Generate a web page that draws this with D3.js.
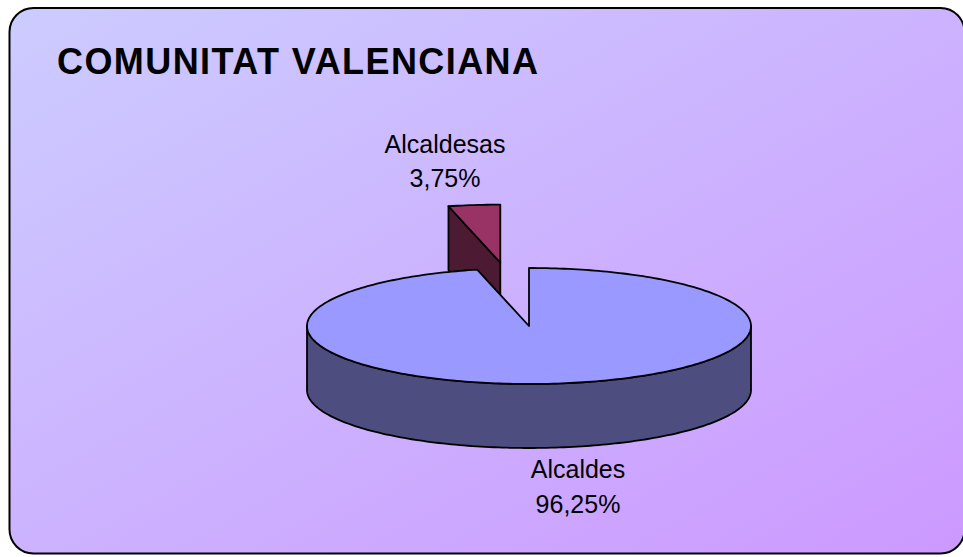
<!DOCTYPE html>
<html>
<head>
<meta charset="utf-8">
<script src="https://cdn.jsdelivr.net/npm/d3@7"></script>
<style>
  html, body { margin: 0; padding: 0; background: #ffffff; }
  svg { display: block; }
  text { font-family: "Liberation Sans", Arial, sans-serif; }
</style>
</head>
<body>
<svg id="chart" width="963" height="557"></svg>
<script>
// ---- data ----
const title = "COMUNITAT VALENCIANA";
const categories = ["Alcaldes", "Alcaldesas"];
const values = [96.25, 3.75];
const valueLabels = ["96,25%", "3,75%"];
const topColors = ["#9999FF", "#993366"];
const sideColors = ["#4D4D80", "#4D1A33"];
const exploded = [0, 1.1];

const W = 963, H = 557;
const svg = d3.select("#chart");

// background
const defs = svg.append("defs");
const grad = defs.append("linearGradient").attr("id", "bg")
  .attr("x1", "0%").attr("y1", "0%").attr("x2", "100%").attr("y2", "100%");
grad.append("stop").attr("offset", "0%").attr("stop-color", "#CCCCFF");
grad.append("stop").attr("offset", "100%").attr("stop-color", "#CC99FF");

svg.append("rect")
  .attr("x", 9.5).attr("y", 8).attr("width", 955).attr("height", 545.5)
  .attr("rx", 24).attr("ry", 24)
  .attr("fill", "url(#bg)").attr("stroke", "#000").attr("stroke-width", 2);

svg.append("text")
  .attr("x", 57).attr("y", 74)
  .attr("font-size", 36).attr("font-weight", "bold")
  .attr("textLength", 481).attr("lengthAdjust", "spacing")
  .attr("fill", "#000")
  .text(title);

// ---- 3D pie ----
const cx = 529, cy = 326, rx = 222, ry = 58, depth = 64;
const pie = d3.pie().sort(null).value(d => d)(values);

// projection of angle (d3 convention: 0 at 12 o'clock, clockwise)
const px = (a, k = 1) => rx * k * Math.sin(a);
const py = (a, k = 1) => -ry * k * Math.cos(a);

function offsetOf(i) {
  const p = pie[i];
  const mid = (p.startAngle + p.endAngle) / 2;
  return [px(mid, exploded[i]), py(mid, exploded[i])];
}

function arcPoints(a0, a1, ox, oy, dy) {
  const n = Math.max(2, Math.ceil(Math.abs(a1 - a0) / 0.02));
  const pts = [];
  for (let j = 0; j <= n; j++) {
    const a = a0 + (a1 - a0) * j / n;
    pts.push([cx + ox + px(a), cy + oy + py(a) + dy]);
  }
  return pts;
}

const line = d3.line();
const g = svg.append("g");

// draw order: exploded (back) slice first, then main slice
const order = d3.range(pie.length).sort((a, b) => exploded[b] - exploded[a]);

order.forEach(i => {
  const p = pie[i];
  const [ox, oy] = offsetOf(i);
  const c = [cx + ox, cy + oy];
  // radial faces
  const faces = [];
  if (Math.sin(p.startAngle) < -1e-6) faces.push(p.startAngle);
  if (Math.sin(p.endAngle) > 1e-6) faces.push(p.endAngle);
  faces.forEach(a => {
    const o = [cx + ox + px(a), cy + oy + py(a)];
    g.append("path")
      .attr("d", line([c, o, [o[0], o[1] + depth], [c[0], c[1] + depth]]) + "Z")
      .attr("fill", sideColors[i]).attr("stroke", "#000").attr("stroke-width", 1.8)
      .attr("stroke-linejoin", "round");
  });
  // outer front wall (angles between 90° and 270°)
  const f0 = Math.max(p.startAngle, Math.PI / 2);
  const f1 = Math.min(p.endAngle, 3 * Math.PI / 2);
  if (f1 > f0) {
    const topPts = arcPoints(f0, f1, ox, oy, 0);
    const botPts = arcPoints(f1, f0, ox, oy, depth);
    g.append("path")
      .attr("d", line(topPts.concat(botPts)) + "Z")
      .attr("fill", sideColors[i]).attr("stroke", "#000").attr("stroke-width", 1.8)
      .attr("stroke-linejoin", "round");
  }
  // top face
  const tp = [c].concat(arcPoints(p.startAngle, p.endAngle, ox, oy, 0));
  g.append("path")
    .attr("d", line(tp) + "Z")
    .attr("fill", topColors[i]).attr("stroke", "#000").attr("stroke-width", 1.8)
    .attr("stroke-linejoin", "round");
});

// labels
const labelPos = [[578, 478, 512.5], [445, 152.5, 186.5]];
pie.forEach((p, i) => {
  const [x, y1, y2] = labelPos[i];
  const t = svg.append("text").attr("text-anchor", "middle")
    .attr("font-size", 25).attr("fill", "#000");
  t.append("tspan").attr("x", x).attr("y", y1).text(categories[i]);
  t.append("tspan").attr("x", x).attr("y", y2).text(valueLabels[i]);
});
</script>
</body>
</html>
